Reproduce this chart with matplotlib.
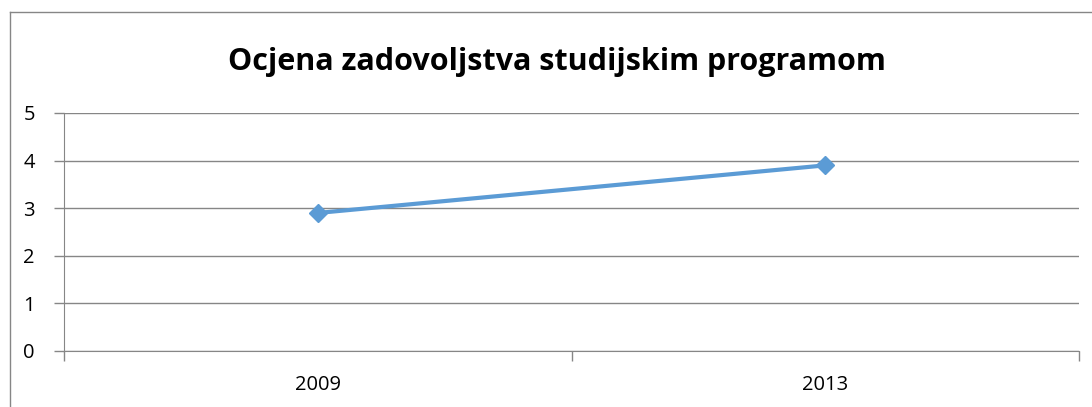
import matplotlib.pyplot as plt

years = ['2009', '2013']
scores = [2.9, 3.9]
yticks = [0, 1, 2, 3, 4, 5]

grey = '#868686'

fig = plt.figure(figsize=(10.92, 4.07), dpi=100)
ax = fig.add_axes([64 / 1092, 1 - 351 / 407, (1079 - 64) / 1092, (351 - 113) / 407])

xpos = [i + 0.5 for i in range(len(years))]
ax.plot(xpos, scores, color='#5B9BD5', lw=3, marker='D', markersize=9, zorder=3)

ax.set_xlim(0, len(years))
ax.set_ylim(0, 5)
ax.set_yticks(yticks)
ax.set_yticklabels([str(t) for t in yticks])
ax.set_xticks(range(len(years) + 1))
ax.set_xticklabels([])
for x, lab in zip(xpos, years):
    ax.text(x, -0.5, lab, ha='center', va='top', fontsize=14.5, family='Open Sans')

ax.grid(axis='y', color=grey, lw=1)
ax.set_axisbelow(True)
for s in ['top', 'right']:
    ax.spines[s].set_visible(False)
for s in ['left', 'bottom']:
    ax.spines[s].set_color(grey)
ax.tick_params(axis='both', color=grey, length=7, width=1)
ax.tick_params(axis='y', pad=14, labelsize=14.5)
for lab in ax.get_yticklabels():
    lab.set_family('Open Sans')

fig.text(557 / 1092, 1 - 62 / 407, 'Ocjena zadovoljstva studijskim programom',
         ha='center', va='center', fontsize=22, fontweight='bold', family='Open Sans')

# chart border (only left and top visible in the crop)
fig.add_artist(plt.Line2D([9.5 / 1092, 9.5 / 1092], [0, 1 - 12 / 407], color=grey, lw=1))
fig.add_artist(plt.Line2D([9.5 / 1092, 1], [1 - 12 / 407, 1 - 12 / 407], color=grey, lw=1))

fig.savefig('out.png', dpi=100)
